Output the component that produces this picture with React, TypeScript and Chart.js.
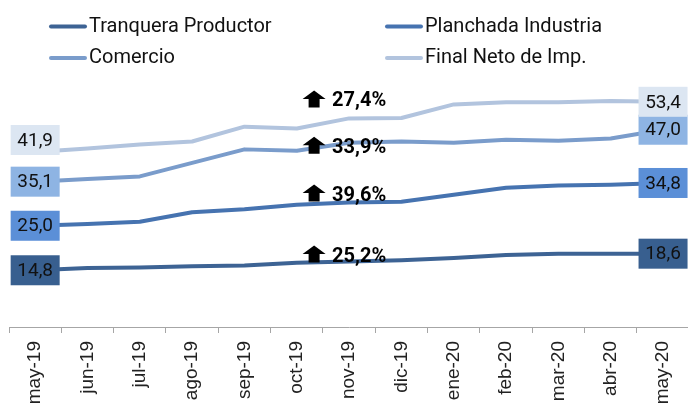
import React, { useEffect, useRef } from 'react';
import { Chart, registerables } from 'chart.js';

Chart.register(...registerables);

const categories = ['may-19', 'jun-19', 'jul-19', 'ago-19', 'sep-19', 'oct-19', 'nov-19', 'dic-19', 'ene-20', 'feb-20', 'mar-20', 'abr-20', 'may-20'];
const tranquera = [14.8, 15.3, 15.45, 15.7, 15.9, 16.5, 16.8, 17.1, 17.6, 18.3, 18.6, 18.6, 18.6];
const planchada = [25.0, 25.4, 25.9, 28.1, 28.8, 29.8, 30.3, 30.5, 32.1, 33.7, 34.2, 34.4, 34.8];
const comercio = [35.1, 35.7, 36.3, 39.4, 42.5, 42.2, 44.0, 44.3, 44.0, 44.7, 44.5, 45.0, 47.0];
const finalNeto = [41.9, 42.7, 43.6, 44.3, 47.7, 47.3, 49.6, 49.7, 52.8, 53.3, 53.3, 53.6, 53.4];
const seriesNames = ['Tranquera Productor', 'Planchada Industria', 'Comercio', 'Final Neto de Imp.'];
const variations = ['25,2%', '39,6%', '33,9%', '27,4%'];

const lineColors = ['#3D6394', '#4673B0', '#7A9CCB', '#B2C4DE'];
const boxColors = ['#385F8F', '#5B8FD7', '#8EB4E3', '#DCE6F2'];
const firstLabelShift = [0, 0, 0, -12];
const annDy = [-6, -8, 4, -18];

const fmt = (v: number) => v.toFixed(1).replace('.', ',');

const overlayPlugin = {
  id: 'overlay',
  afterDatasetsDraw(chart: any) {
    const ctx = chart.ctx;
    ctx.save();
    // end labels
    chart.data.datasets.forEach((ds: any, i: number) => {
      const meta = chart.getDatasetMeta(i);
      const n = ds.data.length;
      [0, n - 1].forEach((idx, k) => {
        const pt = meta.data[idx];
        const cx = pt.x;
        const cy = pt.y + (k === 0 ? firstLabelShift[i] : 0);
        ctx.fillStyle = boxColors[i];
        ctx.fillRect(cx - 24.5, cy - 15, 49, 30);
        ctx.fillStyle = '#111111';
        ctx.font = '19px Roboto';
        ctx.textAlign = 'center';
        ctx.textBaseline = 'middle';
        ctx.fillText(fmt(ds.data[idx]), cx, cy + 1);
      });
    });
    // variation annotations
    const annIdx = 6;
    chart.data.datasets.forEach((ds: any, i: number) => {
      const meta = chart.getDatasetMeta(i);
      const pt = meta.data[annIdx];
      const ty = pt.y + annDy[i];
      const tx = pt.x - 17;
      ctx.fillStyle = '#000000';
      ctx.font = 'bold 20px Roboto';
      ctx.textAlign = 'left';
      ctx.textBaseline = 'middle';
      ctx.fillText(variations[i], tx, ty + 1);
      // up arrow
      const ax = pt.x - 35;
      const top = ty - 10;
      ctx.beginPath();
      ctx.moveTo(ax, top);
      ctx.lineTo(ax + 11.5, top + 8.5);
      ctx.lineTo(ax + 5.5, top + 8.5);
      ctx.lineTo(ax + 5.5, top + 17);
      ctx.lineTo(ax - 5.5, top + 17);
      ctx.lineTo(ax - 5.5, top + 8.5);
      ctx.lineTo(ax - 11.5, top + 8.5);
      ctx.closePath();
      ctx.fill();
    });
    ctx.restore();
  },
  afterDraw(chart: any) {
    const ctx = chart.ctx;
    ctx.save();
    const cols = [50, 386];
    const rows = [26.5, 58];
    seriesNames.forEach((name, i) => {
      const x = cols[i % 2];
      const y = rows[Math.floor(i / 2)];
      ctx.strokeStyle = lineColors[i];
      ctx.lineWidth = 4;
      ctx.lineCap = 'round';
      ctx.beginPath();
      ctx.moveTo(x + 1, y);
      ctx.lineTo(x + 35, y);
      ctx.stroke();
      ctx.fillStyle = '#111111';
      ctx.font = '20px Roboto';
      ctx.textAlign = 'left';
      ctx.textBaseline = 'middle';
      ctx.fillText(name, x + 39, y);
    });
    ctx.restore();
  },
};

export default function App() {
  const canvasRef = useRef<HTMLCanvasElement | null>(null);

  useEffect(() => {
    if (!canvasRef.current) return;
    const series = [tranquera, planchada, comercio, finalNeto];
    const chart = new Chart(canvasRef.current, {
      type: 'line',
      data: {
        labels: categories,
        datasets: series.map((d, i) => ({
          label: seriesNames[i],
          data: d,
          borderColor: lineColors[i],
          backgroundColor: lineColors[i],
          borderWidth: 4,
          pointRadius: 0,
          tension: 0,
          fill: false,
          borderJoinStyle: 'round' as const,
          borderCapStyle: 'round' as const,
        })),
      },
      options: {
        responsive: false,
        animation: false,
        events: [],
        layout: { padding: { top: 73, left: 9, right: 4, bottom: 0 } },
        plugins: {
          legend: { display: false },
          tooltip: { enabled: false },
        },
        scales: {
          x: {
            offset: true,
            grid: {
              offset: true,
              drawOnChartArea: false,
              drawTicks: true,
              tickLength: 6,
              color: '#A6A6A6',
              lineWidth: 1,
            },
            border: { display: true, color: '#A6A6A6', width: 1 },
            ticks: {
              autoSkip: false,
              minRotation: 90,
              maxRotation: 90,
              padding: 8,
              color: '#222222',
              font: { family: 'Liberation Sans', size: 19 },
            },
            afterFit: (s: any) => {
              s.height = 76;
            },
          },
          y: { display: false, min: 1.8, max: 60 },
        },
      },
      plugins: [overlayPlugin],
    });
    return () => chart.destroy();
  }, []);

  return (
    <div
      style={{
        position: 'fixed',
        left: 0,
        top: 0,
        width: 688,
        height: 403,
        overflow: 'hidden',
        background: '#ffffff',
      }}
    >
      <canvas ref={canvasRef} width={694} height={403} style={{ display: 'block' }} />
    </div>
  );
}
